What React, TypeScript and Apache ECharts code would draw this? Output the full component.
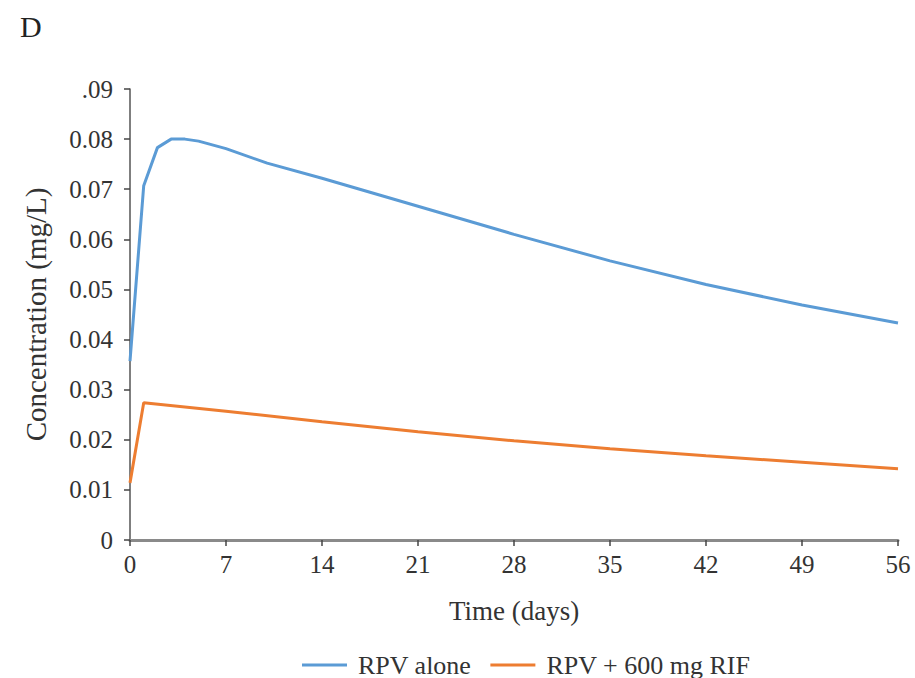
import React, { useEffect, useRef } from "react";
import * as echarts from "echarts";

const days: number[] = [0, 1, 2, 3, 4, 5, 7, 10, 14, 21, 28, 35, 42, 49, 56];
const rpvAlone: number[] = [0.0357, 0.0707, 0.0783, 0.08, 0.08, 0.0796, 0.0781, 0.0752, 0.0722, 0.0666, 0.061, 0.0557, 0.051, 0.0469, 0.0433];
const rifDays: number[] = [0, 1, 7, 14, 21, 28, 35, 42, 49, 56];
const rpvRif: number[] = [0.0114, 0.0274, 0.0257, 0.0236, 0.0216, 0.0198, 0.0182, 0.0168, 0.0155, 0.0142];
const seriesNames: string[] = ["RPV alone", "RPV + 600 mg RIF"];
const panelLabel = "D";
const xTitle = "Time (days)";
const yTitle = "Concentration (mg/L)";

const FONT = "'Liberation Serif', 'DejaVu Serif', serif";

export default function App() {
  const ref = useRef<HTMLDivElement>(null);
  useEffect(() => {
    document.body.style.margin = "0";
    if (!ref.current) return;
    const chart = echarts.init(ref.current, undefined, { renderer: "svg" });
    chart.setOption({
      animation: false,
      backgroundColor: "#ffffff",
      textStyle: { fontFamily: FONT },
      graphic: [
        {
          type: "text",
          left: 20,
          top: 11,
          style: { text: panelLabel, font: `30px ${FONT}`, fill: "#222" },
        },
      ],
      legend: {
        top: 652,
        left: 302,
        padding: 0,
        icon: "rect",
        itemWidth: 45,
        itemHeight: 3,
        itemGap: 19,
        textStyle: { fontFamily: FONT, fontSize: 26, color: "#333", padding: [0, 0, 0, 6] },
        data: seriesNames,
      },
      grid: { left: 130, right: 17, top: 89, bottom: 138, containLabel: false },
      xAxis: {
        type: "value",
        min: 0,
        max: 56,
        interval: 7,
        name: xTitle,
        nameLocation: "middle",
        nameGap: 57,
        nameTextStyle: { fontFamily: FONT, fontSize: 27, color: "#333" },
        axisLine: { show: true, onZero: false, lineStyle: { color: "#8a8a8a", width: 3 } },
        axisTick: { show: true, length: 6, lineStyle: { color: "#444", width: 1.5 } },
        axisLabel: { margin: 12, fontFamily: FONT, fontSize: 25, color: "#333" },
        splitLine: { show: false },
      },
      yAxis: {
        type: "value",
        min: 0,
        max: 0.09,
        interval: 0.01,
        name: yTitle,
        nameLocation: "middle",
        nameGap: 80,
        nameTextStyle: { fontFamily: FONT, fontSize: 29, color: "#333" },
        axisLine: { show: true, lineStyle: { color: "#555", width: 1.5 } },
        axisTick: { show: true, length: 6, lineStyle: { color: "#444", width: 1.5 } },
        axisLabel: {
          margin: 17,
          fontFamily: FONT,
          fontSize: 25,
          color: "#333",
          formatter: (v: number) => {
            const r = Math.round(v * 100) / 100;
            if (r === 0) return "0";
            if (r >= 0.09) return ".09";
            return r.toFixed(2);
          },
        },
        splitLine: { show: false },
      },
      series: [
        {
          name: seriesNames[0],
          type: "line",
          data: days.map((d, i) => [d, rpvAlone[i]]),
          showSymbol: false,
          lineStyle: { color: "#5B9BD5", width: 3 },
          itemStyle: { color: "#5B9BD5" },
        },
        {
          name: seriesNames[1],
          type: "line",
          data: rifDays.map((d, i) => [d, rpvRif[i]]),
          showSymbol: false,
          lineStyle: { color: "#ED7D31", width: 3 },
          itemStyle: { color: "#ED7D31" },
        },
      ],
    });
    return () => chart.dispose();
  }, []);
  return <div ref={ref} style={{ width: 915, height: 678 }} />;
}
